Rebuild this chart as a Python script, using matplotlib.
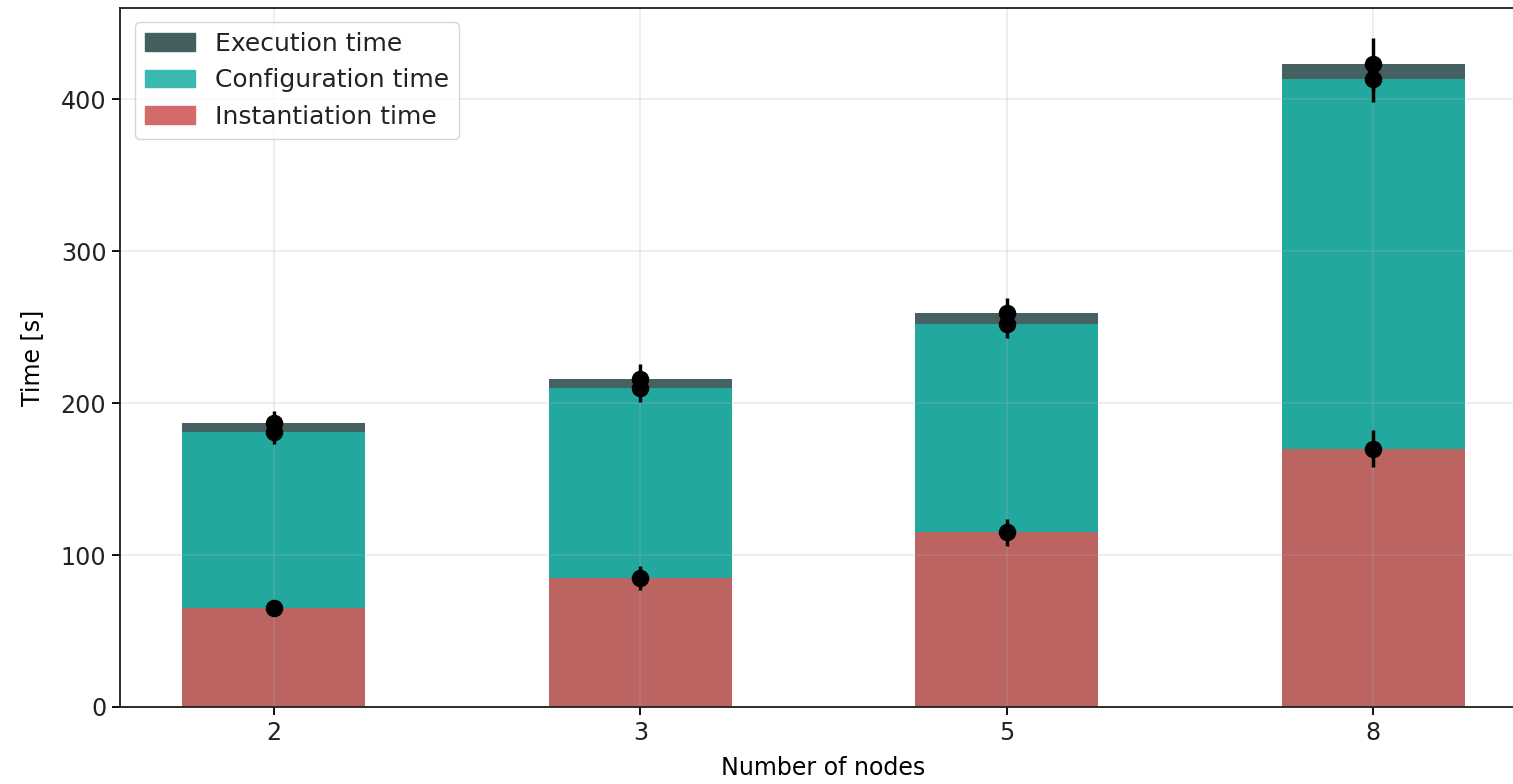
import matplotlib.pyplot as plt
from matplotlib.patches import Patch
import numpy as np

nodes = ['2', '3', '5', '8']
inst = [65, 85, 115, 170]
conf = [116, 125, 137, 243]
exe = [6, 6, 7, 10]
inst_err = [4, 8, 9, 12]
conf_err = [8, 9, 9, 15]
exe_err = [8, 10, 10, 17]

bar_cols = ['#bb6462', '#23a8a0', '#466161']
leg_cols = ['#d46a6a', '#3bb8b0', '#455f5f']

s = 1.66
plt.rcParams['font.size'] = 10.3 * s
plt.rcParams['text.color'] = '#222222'
plt.rcParams['xtick.labelcolor'] = '#222222'
plt.rcParams['ytick.labelcolor'] = '#222222'

fig = plt.figure(figsize=(15.13, 7.84), dpi=100)
ax = fig.add_axes([120 / 1513, 1 - 707 / 784, 1407 / 1513, 699 / 784])

x = np.arange(len(nodes))
w = 0.5
inst = np.array(inst)
conf = np.array(conf)
exe = np.array(exe)

ax.bar(x, inst, w, color=bar_cols[0])
ax.bar(x, conf, w, bottom=inst, color=bar_cols[1])
ax.bar(x, exe, w, bottom=inst + conf, color=bar_cols[2])

kw = dict(fmt='o', color='black', ms=7 * s, elinewidth=1.5 * s, zorder=3)
ax.errorbar(x, inst, yerr=inst_err, **kw)
ax.errorbar(x, inst + conf, yerr=conf_err, **kw)
ax.errorbar(x, inst + conf + exe, yerr=exe_err, **kw)

ax.set_xticks(x)
ax.set_xticklabels(nodes)
ax.set_xlim(-0.42, 3.42)
ax.set_ylim(0, 460)
ax.set_yticks([0, 100, 200, 300, 400])
ax.grid(True, color='#b0b0b0', alpha=0.22, linewidth=0.8 * s)
ax.tick_params(length=3.5 * s, width=0.8 * s, pad=4)
for sp in ax.spines.values():
    sp.set_linewidth(0.8 * s)
    sp.set_color('#222222')

ax.set_xlabel('Number of nodes', labelpad=8)
ax.set_ylabel('Time [s]', labelpad=12)

handles = [Patch(color=leg_cols[2], label='Execution time'),
           Patch(color=leg_cols[1], label='Configuration time'),
           Patch(color=leg_cols[0], label='Instantiation time')]
ax.legend(handles=handles, loc='upper left', fontsize=18,
          borderaxespad=0.6, bbox_to_anchor=(0.0, 1.002))

fig.savefig('out.png', dpi=100)
